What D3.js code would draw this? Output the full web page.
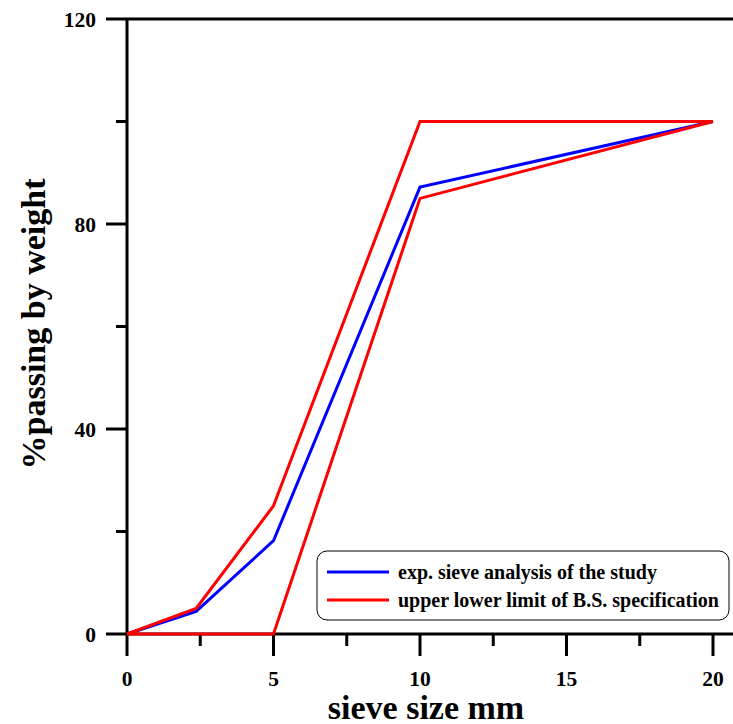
<!DOCTYPE html>
<html>
<head>
<meta charset="utf-8">
<script src="https://cdn.jsdelivr.net/npm/d3@7"></script>
<style>
  html, body { margin: 0; padding: 0; background: #fff; }
  svg { display: block; }
  text { font-family: "Liberation Serif", "Times New Roman", serif; font-weight: bold; }
</style>
</head>
<body>
<svg id="chart" width="733" height="724"></svg>
<script>
// sieve sizes (mm) and % passing
const sieveSizes = [0, 2.36, 5, 10, 20];
const expPassing = [0, 4.4, 18.2, 87.2, 100];
const upperLimit = [0, 5, 25, 100, 100];
const lowerSizes = [0, 5, 10, 20];
const lowerLimit = [0, 0, 85, 100];

const xTicks = [0, 5, 10, 15, 20];
const xMinor = [2.5, 7.5, 12.5, 17.5];
const yTicks = [0, 40, 80, 120];
const yMinor = [20, 60, 100];

const legendItems = [
  { label: "exp. sieve analysis of the study", color: "#0000ff" },
  { label: "upper lower limit of B.S. specification", color: "#ff0000" },
];

const W = 733, H = 724;
const svg = d3.select("#chart");

const x = d3.scaleLinear().domain([0, 20]).range([127, 713]);
const y = d3.scaleLinear().domain([0, 120]).range([634, 19]);

const line = d3.line().x(d => x(d[0])).y(d => y(d[1]));

// top frame line
svg.append("line")
  .attr("x1", x(0)).attr("x2", W)
  .attr("y1", y(120)).attr("y2", y(120))
  .attr("stroke", "#000").attr("stroke-width", 3);

// y axis
const yAxis = svg.append("g").attr("transform", `translate(${x(0)},0)`);
yAxis.append("line")
  .attr("y1", y(0)).attr("y2", y(120))
  .attr("stroke", "#000").attr("stroke-width", 3);
yAxis.selectAll(".ymaj").data(yTicks).join("line")
  .attr("x1", -21).attr("x2", 0)
  .attr("y1", d => y(d)).attr("y2", d => y(d))
  .attr("stroke", "#000").attr("stroke-width", 3);
yAxis.selectAll(".ymin").data(yMinor).join("line")
  .attr("x1", -11).attr("x2", 0)
  .attr("y1", d => y(d)).attr("y2", d => y(d))
  .attr("stroke", "#000").attr("stroke-width", 3);
yAxis.selectAll(".ylab").data(yTicks).join("text")
  .attr("x", -31).attr("y", d => y(d)).attr("dy", "0.35em")
  .attr("text-anchor", "end").attr("font-size", 21.5)
  .text(d => d);

// x axis
const xAxis = svg.append("g").attr("transform", `translate(0,${y(0)})`);
xAxis.append("line")
  .attr("x1", x(0)).attr("x2", W)
  .attr("stroke", "#000").attr("stroke-width", 3);
xAxis.selectAll(".xmaj").data(xTicks).join("line")
  .attr("x1", d => x(d)).attr("x2", d => x(d))
  .attr("y1", 0).attr("y2", 22)
  .attr("stroke", "#000").attr("stroke-width", 3);
xAxis.selectAll(".xmin").data(xMinor).join("line")
  .attr("x1", d => x(d)).attr("x2", d => x(d))
  .attr("y1", 0).attr("y2", 12)
  .attr("stroke", "#000").attr("stroke-width", 3);
xAxis.selectAll(".xlab").data(xTicks).join("text")
  .attr("x", d => x(d)).attr("y", 52)
  .attr("text-anchor", "middle").attr("font-size", 21.5)
  .text(d => d);

// axis titles
svg.append("text")
  .attr("x", 426).attr("y", 719)
  .attr("text-anchor", "middle").attr("font-size", 34)
  .text("sieve size mm");
svg.append("text")
  .attr("transform", "translate(45,324) rotate(-90)")
  .attr("text-anchor", "middle").attr("font-size", 34)
  .text("%passing by weight");

// data lines
svg.append("path")
  .datum(d3.zip(sieveSizes, expPassing))
  .attr("d", line).attr("fill", "none")
  .attr("stroke", "#0000ff").attr("stroke-width", 3);
svg.append("path")
  .datum(d3.zip(sieveSizes, upperLimit))
  .attr("d", line).attr("fill", "none")
  .attr("stroke", "#ff0000").attr("stroke-width", 3);
svg.append("path")
  .datum(d3.zip(lowerSizes, lowerLimit))
  .attr("d", line).attr("fill", "none")
  .attr("stroke", "#ff0000").attr("stroke-width", 3);

// legend
const lg = svg.append("g").attr("transform", "translate(317,551)");
lg.append("rect")
  .attr("width", 412).attr("height", 69)
  .attr("rx", 10).attr("ry", 10)
  .attr("fill", "#fff").attr("stroke", "#000").attr("stroke-width", 1);
legendItems.forEach((item, i) => {
  const yy = 21 + i * 28;
  lg.append("line")
    .attr("x1", 10).attr("x2", 72)
    .attr("y1", yy).attr("y2", yy)
    .attr("stroke", item.color).attr("stroke-width", 3);
  lg.append("text")
    .attr("x", 81).attr("y", yy).attr("dy", "0.35em")
    .attr("font-size", 20)
    .text(item.label);
});
</script>
</body>
</html>
